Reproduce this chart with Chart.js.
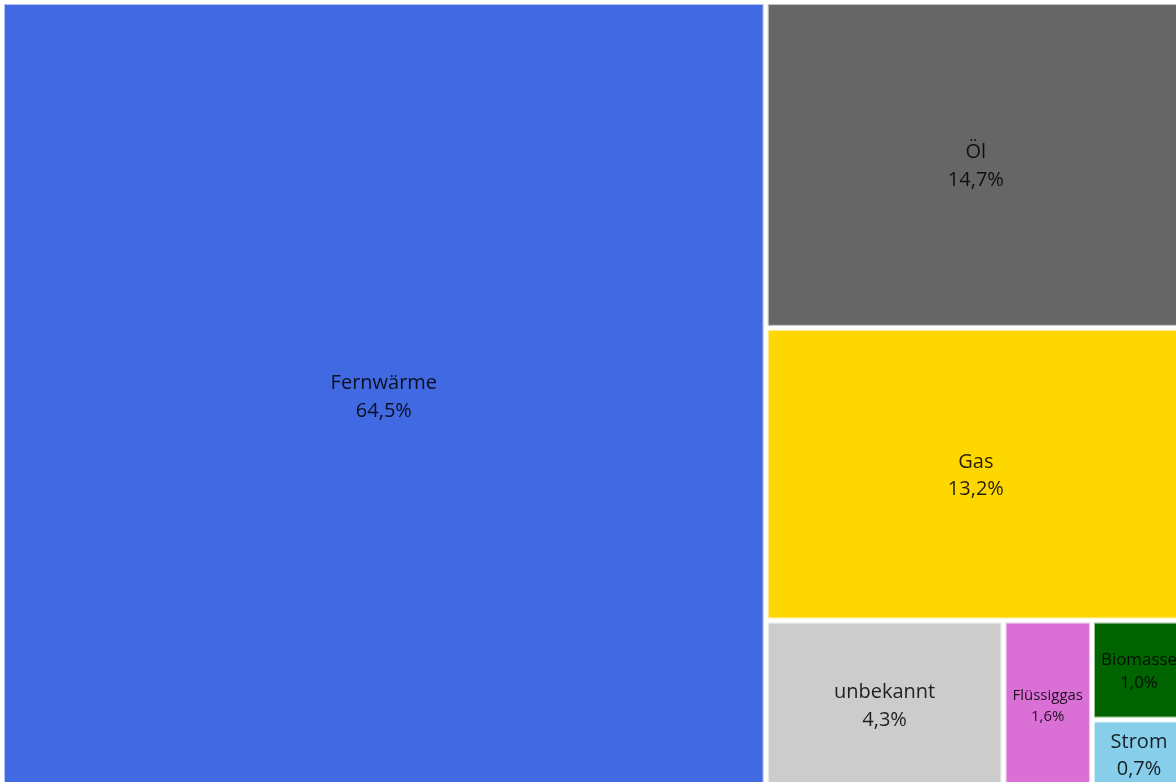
<!DOCTYPE html>
<html lang="de">
<head>
  <meta charset="UTF-8" />
  <title>Heizungsarten</title>
  <style>
    * { margin: 0; padding: 0; box-sizing: border-box; }
    html, body { width: 100%; height: 100%; background: #fff; overflow: hidden; }
    .wrap { position: absolute; left: 0; top: 0; width: 1188px; height: 791px; }
  </style>
</head>
<body>
  <div class="wrap"><canvas id="karte"></canvas></div>
  <script src="https://cdn.jsdelivr.net/npm/chart.js"></script>
  <script>
    const kategorien = ['Fernwärme', 'Öl', 'Gas', 'unbekannt', 'Flüssiggas', 'Biomasse', 'Strom'];
    const anteile = [64.5, 14.7, 13.2, 4.3, 1.6, 1.0, 0.7];
    const farben = ['#4169e1', '#666666', '#ffd700', '#cccccc', '#da70d6', '#006400', '#87ceeb'];

    // squarified treemap, gibt Rechtecke in Einheiten 0..1 zurück
    function worst(row, side) {
      const s = row.reduce((a, b) => a + b, 0);
      let m = 0;
      row.forEach(a => {
        m = Math.max(m, side * side * a / (s * s), s * s / (side * side * a));
      });
      return m;
    }

    function squarify(werte, w, h) {
      const total = werte.reduce((a, b) => a + b, 0);
      const flaechen = werte.map(v => v / total * w * h);
      const out = [];
      let r = { x: 0, y: 0, w: w, h: h };
      let i = 0;
      while (i < flaechen.length) {
        const side = Math.min(r.w, r.h);
        let row = [flaechen[i]];
        let j = i + 1;
        while (j < flaechen.length && worst(row.concat(flaechen[j]), side) <= worst(row, side)) {
          row.push(flaechen[j]);
          j++;
        }
        const s = row.reduce((a, b) => a + b, 0);
        if (r.w >= r.h) {
          const colW = s / r.h;
          let y = r.y;
          row.forEach(a => { const hh = a / colW; out.push({ x: r.x, y: y, w: colW, h: hh }); y += hh; });
          r = { x: r.x + colW, y: r.y, w: r.w - colW, h: r.h };
        } else {
          const rowH = s / r.w;
          let x = r.x;
          row.forEach(a => { const ww = a / rowH; out.push({ x: x, y: r.y, w: ww, h: rowH }); x += ww; });
          r = { x: r.x, y: r.y + rowH, w: r.w, h: r.h - rowH };
        }
        i = j;
      }
      return out.map(q => ({ x0: q.x / w, x1: (q.x + q.w) / w, y0: q.y / h, y1: (q.y + q.h) / h }));
    }

    function hexAlpha(hex, a) {
      const n = parseInt(hex.slice(1), 16);
      return `rgba(${(n >> 16) & 255},${(n >> 8) & 255},${n & 255},${a})`;
    }

    const treemapPlugin = {
      id: 'treemap',
      afterDatasetsDraw(chart) {
        const ctx = chart.ctx;
        const xs = chart.scales.x, ys = chart.scales.y;
        const area = chart.chartArea;
        const werte = chart.data.datasets[0].data;
        const rects = squarify(werte, area.right - area.left, area.bottom - area.top);
        const gap = 3;
        ctx.save();
        rects.forEach((q, i) => {
          const l = xs.getPixelForValue(q.x0) + gap;
          const r = xs.getPixelForValue(q.x1) - gap;
          const t = ys.getPixelForValue(q.y0) + gap;
          const b = ys.getPixelForValue(q.y1) - gap;
          const farbe = chart.data.datasets[0].backgroundColor[i];
          ctx.fillStyle = farbe;
          ctx.fillRect(l, t, r - l, b - t);
          ctx.strokeStyle = hexAlpha(farbe, 0.4);
          ctx.lineWidth = 1;
          ctx.strokeRect(l - 0.5, t - 0.5, r - l + 1, b - t + 1);

          // Beschriftung
          const name = chart.data.labels[i];
          const wert = werte[i].toFixed(1).replace('.', ',') + '%';
          let size = 20;
          ctx.font = `${size}px "Open Sans", sans-serif`;
          const tw = Math.max(ctx.measureText(name).width, ctx.measureText(wert).width);
          if (tw > (r - l) - 12) size = size * ((r - l) - 12) / tw;
          ctx.font = `${size}px "Open Sans", sans-serif`;
          const lh = size * 1.38;
          const cx = (l + r) / 2, cy = (t + b) / 2 + 1.5;
          ctx.fillStyle = 'rgba(0,0,0,0.85)';
          ctx.textAlign = 'center';
          ctx.textBaseline = 'middle';
          ctx.fillText(name, cx, cy - lh / 2);
          ctx.fillText(wert, cx, cy + lh / 2);
        });
        ctx.restore();
      }
    };

    const ctx = document.getElementById('karte').getContext('2d');
    new Chart(ctx, {
      type: 'scatter',
      data: {
        labels: kategorien,
        datasets: [{
          label: 'Anteil',
          data: anteile,
          backgroundColor: farben,
          pointRadius: 0
        }]
      },
      options: {
        responsive: true,
        maintainAspectRatio: false,
        animation: false,
        layout: { padding: 2 },
        scales: {
          x: { type: 'linear', min: 0, max: 1, display: false },
          y: { type: 'linear', min: 0, max: 1, reverse: true, display: false }
        },
        plugins: {
          legend: { display: false },
          tooltip: { enabled: false }
        }
      },
      plugins: [treemapPlugin]
    });
  </script>
</body>
</html>
